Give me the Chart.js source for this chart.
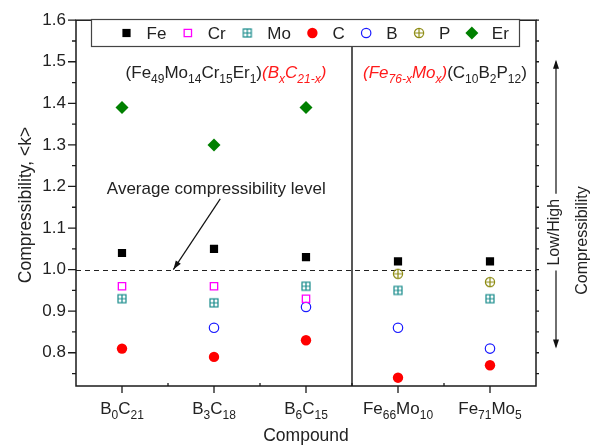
<!DOCTYPE html>
<html><head><meta charset="utf-8">
<script src="https://cdn.jsdelivr.net/npm/chart.js@4/dist/chart.umd.min.js"></script>
<style>html,body{margin:0;padding:0;background:#fff}#wrap{width:604px;height:446px}</style>
</head><body><div id="wrap"><canvas id="c" width="604" height="446"></canvas></div>
<script>
// ---- data ----
const categories = ['B0C21','B3C18','B6C15','Fe66Mo10','Fe71Mo5'];
const seriesNames = ['Fe','Cr','Mo','C','B','P','Er'];
const Fe = [1.04, 1.05, 1.03, 1.02, 1.02];
const Cr = [0.96, 0.96, 0.93, null, null];
const Mo = [0.93, 0.92, 0.96, 0.95, 0.93];
const C  = [0.81, 0.79, 0.83, 0.74, 0.77];
const B  = [null, 0.86, 0.91, 0.86, 0.81];
const P  = [null, null, null, 0.99, 0.97];
const Er = [1.39, 1.30, 1.39, null, null];
const yTicks = [0.8, 0.9, 1.0, 1.1, 1.2, 1.3, 1.4, 1.5, 1.6];
const averageLevel = 1.0;
const groupSplit = 2.5;
const leftTitle = [['(Fe_{49}Mo_{14}Cr_{15}Er_{1})', '#222', false], ['(B_{x}C_{21-x})', '#ff1a1a', true]];
const rightTitle = [['(Fe_{76-x}Mo_{x})', '#ff1a1a', true], ['(C_{10}B_{2}P_{12})', '#222', false]];

const FONT = '"Liberation Sans", Arial, Helvetica, sans-serif';
const TXT = '#222';

function makeIcon(kind, color) {
  const cv = document.createElement('canvas');
  cv.width = 12; cv.height = 12;
  const g = cv.getContext('2d');
  g.strokeStyle = color; g.lineWidth = 1.2;
  if (kind === 'sq') {
    g.strokeRect(2, 2, 8, 8);
    g.beginPath(); g.moveTo(6, 2); g.lineTo(6, 10); g.moveTo(2, 6); g.lineTo(10, 6); g.stroke();
  } else {
    g.beginPath(); g.arc(6, 6, 4.6, 0, Math.PI * 2); g.stroke();
    g.beginPath(); g.moveTo(6, 1.4); g.lineTo(6, 10.6); g.moveTo(1.4, 6); g.lineTo(10.6, 6); g.stroke();
  }
  return cv;
}
const moIcon = makeIcon('sq', '#168a8a');
const pIcon = makeIcon('circ', '#8c8a10');

const styles = {
  Fe: {pointStyle: 'rect', pointRadius: 5.8, pointBackgroundColor: '#000', pointBorderColor: '#000', pointBorderWidth: 0},
  Cr: {pointStyle: 'rect', pointRadius: 5.2, pointBackgroundColor: 'rgba(0,0,0,0)', pointBorderColor: '#ff00ff', pointBorderWidth: 1.3},
  Mo: {pointStyle: moIcon, pointRadius: 6, pointBackgroundColor: '#168a8a', pointBorderColor: '#168a8a', pointBorderWidth: 0},
  C:  {pointStyle: 'circle', pointRadius: 5.2, pointBackgroundColor: '#ff0000', pointBorderColor: '#ff0000', pointBorderWidth: 0},
  B:  {pointStyle: 'circle', pointRadius: 4.7, pointBackgroundColor: 'rgba(0,0,0,0)', pointBorderColor: '#1a1aff', pointBorderWidth: 1.2},
  P:  {pointStyle: pIcon, pointRadius: 6, pointBackgroundColor: '#8c8a10', pointBorderColor: '#8c8a10', pointBorderWidth: 0},
  Er: {pointStyle: 'rectRot', pointRadius: 6.5, pointBackgroundColor: '#008000', pointBorderColor: '#008000', pointBorderWidth: 0}
};
const seriesValues = {Fe, Cr, Mo, C, B, P, Er};

const datasets = seriesNames.map(name => Object.assign({
  label: name,
  data: seriesValues[name].map((v, i) => v == null ? null : {x: i, y: v}).filter(p => p),
  showLine: false
}, styles[name]));

function parseMarkup(str) {
  const out = [];
  const re = /_\{([^}]*)\}/g;
  let last = 0, m;
  while ((m = re.exec(str))) {
    if (m.index > last) out.push({t: str.slice(last, m.index), sub: false});
    out.push({t: m[1], sub: true});
    last = re.lastIndex;
  }
  if (last < str.length) out.push({t: str.slice(last), sub: false});
  return out;
}

function richSegments(parts) {
  const segs = [];
  parts.forEach(([s, color, italic]) => parseMarkup(s).forEach(p => segs.push(Object.assign(p, {color, italic}))));
  return segs;
}

function drawRich(ctx, segs, x, y, align, size, subSize) {
  const fontOf = s => (s.italic ? 'italic ' : '') + (s.sub ? subSize : size) + 'px ' + FONT;
  let total = 0;
  segs.forEach(s => { ctx.font = fontOf(s); s.w = ctx.measureText(s.t).width; total += s.w; });
  let cx = align === 'center' ? x - total / 2 : x;
  ctx.textAlign = 'left'; ctx.textBaseline = 'alphabetic';
  segs.forEach(s => {
    ctx.font = fontOf(s);
    ctx.fillStyle = s.color || TXT;
    ctx.fillText(s.t, cx, y + (s.sub ? 5 : 0));
    cx += s.w;
  });
}

function arrowHead(ctx, x1, y1, x2, y2, len, half) {
  const a = Math.atan2(y2 - y1, x2 - x1);
  ctx.beginPath();
  ctx.moveTo(x2, y2);
  ctx.lineTo(x2 - len * Math.cos(a) + half * Math.sin(a), y2 - len * Math.sin(a) - half * Math.cos(a));
  ctx.lineTo(x2 - len * Math.cos(a) - half * Math.sin(a), y2 - len * Math.sin(a) + half * Math.cos(a));
  ctx.closePath();
  ctx.fill();
}

const legendBox = {left: 91, top: 19, right: 519, bottom: 46};

const deco = {
  id: 'deco',
  beforeDatasetsDraw(chart) {
    const {ctx, chartArea: a, scales: {x, y}} = chart;
    ctx.save();
    ctx.strokeStyle = '#222'; ctx.lineWidth = 1; ctx.setLineDash([5, 4]);
    const yy = Math.round(y.getPixelForValue(averageLevel)) + 0.5;
    ctx.beginPath(); ctx.moveTo(a.left, yy); ctx.lineTo(a.right, yy); ctx.stroke();
    ctx.setLineDash([]);
    ctx.strokeStyle = '#111'; ctx.lineWidth = 1.4;
    const sx = x.getPixelForValue(groupSplit);
    ctx.beginPath(); ctx.moveTo(sx, legendBox.bottom); ctx.lineTo(sx, a.bottom); ctx.stroke();
    ctx.restore();
  },
  afterDraw(chart) {
    const {ctx, chartArea: a, scales: {x, y}} = chart;
    ctx.save();
    ctx.strokeStyle = '#1a1a1a'; ctx.lineWidth = 1.5;
    ctx.strokeRect(a.left, a.top, a.right - a.left, a.bottom - a.top);
    ctx.lineWidth = 1.3;
    ctx.beginPath();
    for (let v = 0.75; v <= 1.6001; v += 0.05) {
      const p = y.getPixelForValue(v);
      const major = Math.abs(v * 10 - Math.round(v * 10)) < 1e-6;
      ctx.moveTo(a.left - (major ? 8 : 4), p); ctx.lineTo(a.left, p);
      ctx.moveTo(a.right, p); ctx.lineTo(a.right + 3, p);
    }
    for (let v = 0; v <= 4; v++) {
      const p = x.getPixelForValue(v);
      ctx.moveTo(p, a.bottom); ctx.lineTo(p, a.bottom + 7);
      ctx.moveTo(p, a.top); ctx.lineTo(p, a.top + 3);
    }
    for (let v = 0.5; v <= 3.5; v++) {
      const p = x.getPixelForValue(v);
      ctx.moveTo(p, a.bottom); ctx.lineTo(p, a.bottom - 3);
      ctx.moveTo(p, a.top); ctx.lineTo(p, a.top + 3);
    }
    ctx.stroke();

    categories.forEach((c, i) => {
      const segs = [];
      c.replace(/([A-Za-z]+)(\d+)/g, (m, el, n) => { segs.push({t: el, sub: false}); segs.push({t: n, sub: true}); return m; });
      drawRich(ctx, segs, x.getPixelForValue(i), a.bottom + 28, 'center', 17, 12);
    });

    ctx.fillStyle = TXT;
    ctx.font = '17.5px ' + FONT;
    ctx.textAlign = 'center'; ctx.textBaseline = 'alphabetic';
    ctx.fillText('Compound', (a.left + a.right) / 2, a.bottom + 55);
    ctx.save();
    ctx.translate(26, 205); ctx.rotate(-Math.PI / 2);
    ctx.textBaseline = 'middle';
    ctx.fillText('Compressibility, <k>', 0, 0);
    ctx.restore();

    // legend
    ctx.fillStyle = '#fff';
    ctx.fillRect(legendBox.left, legendBox.top, legendBox.right - legendBox.left, legendBox.bottom - legendBox.top);
    ctx.strokeStyle = '#444'; ctx.lineWidth = 1.2;
    ctx.strokeRect(legendBox.left + 0.5, legendBox.top + 0.5, legendBox.right - legendBox.left, legendBox.bottom - legendBox.top);
    const ly = (legendBox.top + legendBox.bottom) / 2 + 0.5;
    let lx = 126.5;
    chart.data.datasets.forEach(ds => {
      ctx.fillStyle = ds.pointBackgroundColor;
      ctx.strokeStyle = ds.pointBorderColor;
      ctx.lineWidth = ds.pointBorderWidth;
      Chart.helpers.drawPoint(ctx, {pointStyle: ds.pointStyle, radius: ds.pointRadius, rotation: 0, borderWidth: ds.pointBorderWidth}, lx, ly);
      ctx.fillStyle = TXT; ctx.textAlign = 'left'; ctx.textBaseline = 'middle';
      ctx.font = '17px ' + FONT;
      ctx.fillText(ds.label, lx + 20, ly + 1);
      lx += 20 + ctx.measureText(ds.label).width + 21.5;
    });

    const tY = y.getPixelForValue(1.46);
    drawRich(ctx, richSegments(leftTitle), x.getPixelForValue(1.13), tY, 'center', 17, 12);
    drawRich(ctx, richSegments(rightTitle), x.getPixelForValue(3.51), tY, 'center', 17, 12);

    ctx.fillStyle = TXT; ctx.font = '17px ' + FONT; ctx.textAlign = 'center'; ctx.textBaseline = 'alphabetic';
    ctx.fillText('Average compressibility level', x.getPixelForValue(1.025), y.getPixelForValue(1.183));
    const ax1 = x.getPixelForValue(1.068), ay1 = y.getPixelForValue(1.17);
    const ax2 = x.getPixelForValue(0.558), ay2 = y.getPixelForValue(averageLevel);
    ctx.strokeStyle = '#111'; ctx.fillStyle = '#111'; ctx.lineWidth = 1.2;
    ctx.beginPath(); ctx.moveTo(ax1, ay1); ctx.lineTo(ax2, ay2); ctx.stroke();
    arrowHead(ctx, ax1, ay1, ax2, ay2, 9, 3);

    // right side low/high arrow
    const rx = a.right + 20;
    const top = y.getPixelForValue(1.505), bot = y.getPixelForValue(0.81);
    const lhC = y.getPixelForValue(1.09);
    ctx.font = '16px ' + FONT;
    const lhW = ctx.measureText('Low/High').width;
    const g1 = lhC - lhW / 2 - 5, g2 = lhC + lhW / 2 + 5;
    ctx.lineWidth = 1.2;
    ctx.beginPath(); ctx.moveTo(rx, top + 2); ctx.lineTo(rx, g1); ctx.moveTo(rx, g2); ctx.lineTo(rx, bot - 2); ctx.stroke();
    arrowHead(ctx, rx, top + 20, rx, top, 9, 3);
    arrowHead(ctx, rx, bot - 20, rx, bot, 9, 3);
    ctx.fillStyle = TXT; ctx.textAlign = 'center'; ctx.textBaseline = 'middle';
    ctx.save(); ctx.translate(rx - 1, lhC); ctx.rotate(-Math.PI / 2); ctx.fillText('Low/High', 0, 0); ctx.restore();
    ctx.save(); ctx.translate(a.right + 47, y.getPixelForValue(1.07)); ctx.rotate(-Math.PI / 2); ctx.fillText('Compressibility', 0, 0); ctx.restore();
    ctx.restore();
  }
};

new Chart(document.getElementById('c'), {
  type: 'scatter',
  data: {datasets},
  options: {
    responsive: false,
    animation: false,
    layout: {padding: {top: 15, right: 68, left: 0, bottom: 0}},
    plugins: {legend: {display: false}, tooltip: {enabled: false}},
    scales: {
      x: {
        type: 'linear', min: -0.5, max: 4.5,
        grid: {display: false}, border: {display: false},
        ticks: {display: false},
        afterFit(s) { s.height = 60; }
      },
      y: {
        type: 'linear', min: 0.72, max: 1.6,
        grid: {display: false, drawTicks: false}, border: {display: false},
        afterBuildTicks(s) { s.ticks = yTicks.map(v => ({value: v})); },
        ticks: {padding: 10, color: TXT, font: {family: FONT, size: 17}, callback: v => Number(v).toFixed(1)},
        afterFit(s) { s.width = 76; }
      }
    }
  },
  plugins: [deco]
});
</script>
</body></html>
